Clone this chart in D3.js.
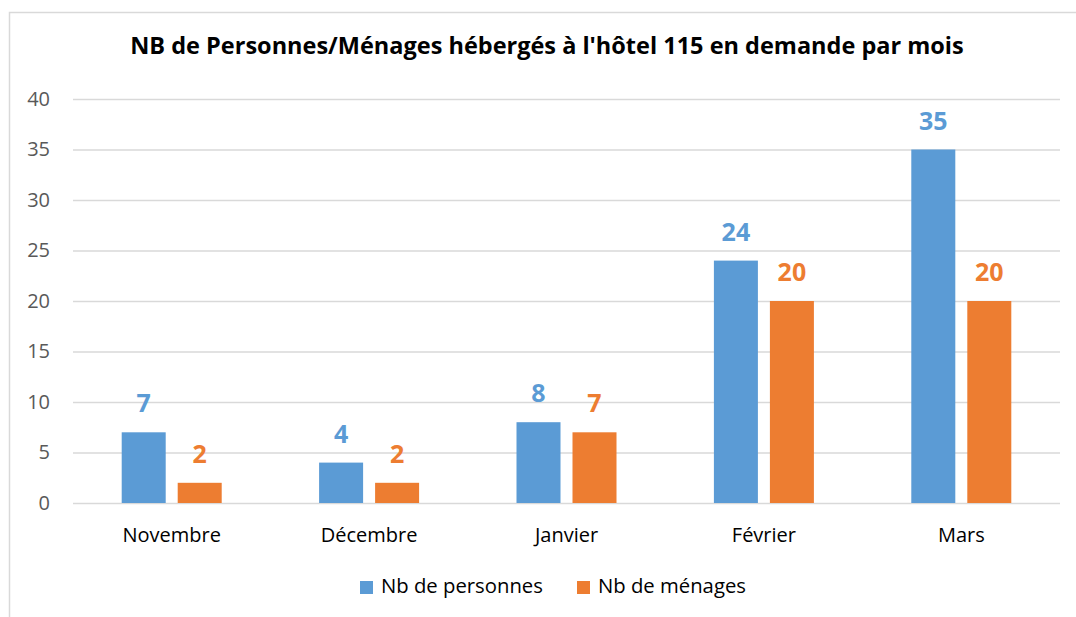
<!DOCTYPE html>
<html>
<head>
<meta charset="utf-8">
<script src="https://cdn.jsdelivr.net/npm/d3@7"></script>
<style>
  body { margin: 0; background: #fff; }
  svg { display: block; font-family: "Open Sans", sans-serif; }
</style>
</head>
<body>
<div id="chart"></div>
<script>
// data
var months = ["Novembre", "Décembre", "Janvier", "Février", "Mars"];
var personnes = [7, 4, 8, 24, 35];
var menages = [2, 2, 7, 20, 20];
var seriesNames = ["Nb de personnes", "Nb de ménages"];
var yTicks = [0, 5, 10, 15, 20, 25, 30, 35, 40];
var title = "NB de Personnes/Ménages hébergés à l'hôtel 115 en demande par mois";

var colors = ["#5B9BD5", "#ED7D31"];
var W = 1076, H = 617;
var margin = {top: 99, right: 16, bottom: 114, left: 73};

var svg = d3.select("#chart").append("svg")
  .attr("width", W)
  .attr("height", H);

// chart frame (runs off the right and bottom of the picture)
svg.append("rect")
  .attr("x", 9.5).attr("y", 12.5)
  .attr("width", 1200).attr("height", 800)
  .attr("fill", "none")
  .attr("stroke", "#D9D9D9")
  .attr("stroke-width", 1.5);

svg.append("text")
  .attr("x", 547).attr("y", 54)
  .attr("text-anchor", "middle")
  .attr("font-size", 23.5)
  .attr("font-weight", "bold")
  .attr("fill", "#000")
  .text(title);

var x = d3.scaleBand()
  .domain(months)
  .range([margin.left, W - margin.right]);

var y = d3.scaleLinear()
  .domain([0, 40])
  .range([H - margin.bottom, margin.top]);

// gridlines + y labels
var yAxis = svg.append("g")
  .attr("transform", "translate(" + margin.left + ",0)")
  .call(d3.axisLeft(y).tickValues(yTicks).tickSize(-(W - margin.right - margin.left)).tickPadding(23));
yAxis.select(".domain").remove();
yAxis.selectAll(".tick line").attr("stroke", "#D9D9D9").attr("stroke-width", 1.5);
yAxis.selectAll(".tick text")
  .attr("font-size", 20)
  .attr("font-family", "Open Sans")
  .attr("fill", "#595959");

// category labels
svg.append("g").selectAll("text")
  .data(months)
  .enter().append("text")
  .attr("x", function(d) { return x(d) + x.bandwidth() / 2; })
  .attr("y", y(0) + 39)
  .attr("text-anchor", "middle")
  .attr("font-size", 20)
  .attr("fill", "#000")
  .text(function(d) { return d; });

var barW = 44, offset = 28;
var series = [personnes, menages];

series.forEach(function(vals, si) {
  var dx = si === 0 ? -offset : offset;
  var g = svg.append("g");
  g.selectAll("rect")
    .data(vals)
    .enter().append("rect")
    .attr("x", function(d, i) { return x(months[i]) + x.bandwidth() / 2 + dx - barW / 2; })
    .attr("y", function(d) { return y(d); })
    .attr("width", barW)
    .attr("height", function(d) { return y(0) - y(d); })
    .attr("fill", colors[si]);
  g.selectAll("text")
    .data(vals)
    .enter().append("text")
    .attr("x", function(d, i) { return x(months[i]) + x.bandwidth() / 2 + dx; })
    .attr("y", function(d) { return y(d) - 20; })
    .attr("text-anchor", "middle")
    .attr("font-size", 25)
    .attr("font-weight", "bold")
    .attr("fill", colors[si])
    .text(function(d) { return d; });
});

// legend
var legend = svg.append("g");
var legendX = [360, 577];
seriesNames.forEach(function(name, i) {
  legend.append("rect")
    .attr("x", legendX[i]).attr("y", 581)
    .attr("width", 13).attr("height", 13)
    .attr("fill", colors[i]);
  legend.append("text")
    .attr("x", legendX[i] + 21).attr("y", 593)
    .attr("font-size", 20.3)
    .attr("fill", "#000")
    .text(name);
});
</script>
</body>
</html>
